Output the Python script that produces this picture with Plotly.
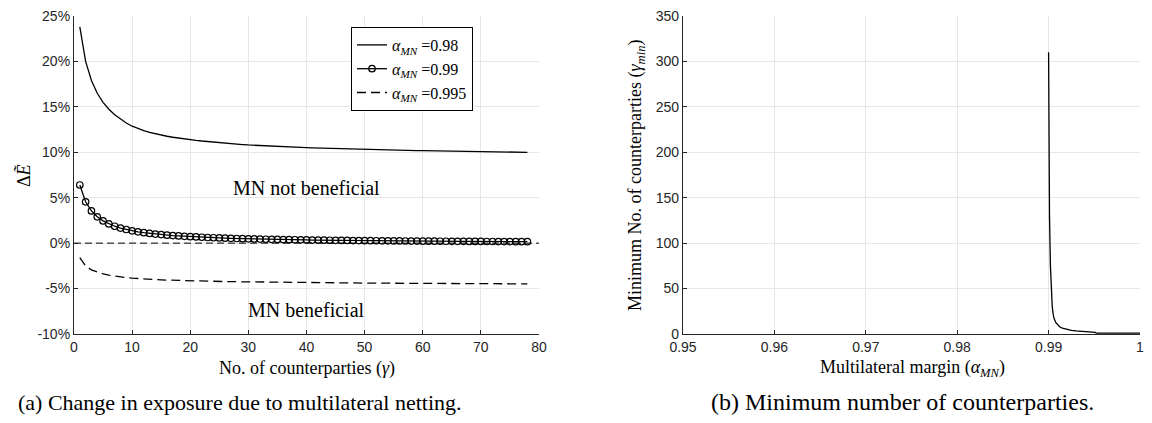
import plotly.graph_objects as go

# ---------------- data ----------------
gamma = list(range(1, 79))

alpha_098 = [23.8, 20.0, 17.9, 16.5, 15.5, 14.74, 14.14, 13.64, 13.22, 12.87,
             12.61, 12.39, 12.20, 12.035, 11.89, 11.765, 11.655, 11.555, 11.465, 11.385,
             11.31, 11.24, 11.175, 11.115, 11.057, 11.002, 10.949, 10.899, 10.851, 10.805,
             10.769, 10.735, 10.703, 10.672, 10.643, 10.615, 10.588, 10.563, 10.539, 10.516,
             10.494, 10.473, 10.452, 10.432, 10.413, 10.394, 10.376, 10.358, 10.341, 10.324,
             10.308, 10.292, 10.277, 10.262, 10.247, 10.233, 10.219, 10.205, 10.192, 10.179,
             10.167, 10.155, 10.143, 10.131, 10.120, 10.109, 10.098, 10.088, 10.078, 10.068,
             10.058, 10.049, 10.040, 10.031, 10.022, 10.014, 10.006, 9.998]

alpha_099 = [6.4, 4.55, 3.55, 2.9, 2.45, 2.12, 1.86, 1.66, 1.5, 1.36,
             1.25, 1.15, 1.07, 1.0, 0.94, 0.88, 0.83, 0.79, 0.75, 0.71,
             0.68, 0.65, 0.62, 0.595, 0.57, 0.55, 0.53, 0.51, 0.49, 0.475,
             0.46, 0.445, 0.43, 0.418, 0.405, 0.394, 0.383, 0.372, 0.362, 0.352,
             0.343, 0.334, 0.326, 0.318, 0.31, 0.302, 0.295, 0.288, 0.281, 0.275,
             0.269, 0.263, 0.257, 0.251, 0.246, 0.241, 0.236, 0.231, 0.226, 0.222,
             0.218, 0.214, 0.21, 0.206, 0.202, 0.198, 0.195, 0.191, 0.188, 0.185,
             0.182, 0.179, 0.176, 0.173, 0.17, 0.167, 0.165, 0.162]

alpha_0995 = [-1.6, -2.5, -2.95, -3.2, -3.38, -3.52, -3.63, -3.72, -3.79, -3.85,
              -3.9, -3.94, -3.98, -4.01, -4.04, -4.065, -4.09, -4.11, -4.13, -4.15,
              -4.165, -4.18, -4.193, -4.206, -4.218, -4.229, -4.24, -4.25, -4.26, -4.269,
              -4.278, -4.286, -4.294, -4.302, -4.309, -4.316, -4.323, -4.33, -4.336, -4.342,
              -4.348, -4.354, -4.36, -4.365, -4.37, -4.375, -4.38, -4.385, -4.39, -4.395,
              -4.399, -4.403, -4.407, -4.411, -4.415, -4.419, -4.423, -4.427, -4.43, -4.434,
              -4.437, -4.44, -4.443, -4.446, -4.449, -4.452, -4.455, -4.458, -4.461, -4.464,
              -4.467, -4.47, -4.472, -4.474, -4.476, -4.478, -4.48, -4.482]

zero_ref_x = [0, 80]
zero_ref_y = [0, 0]

alpha_mn = [0.99, 0.99005, 0.9901, 0.9902, 0.9903, 0.9904, 0.9905, 0.9906, 0.9908,
            0.991, 0.9912, 0.9915, 0.992, 0.9925, 0.993, 0.9935, 0.994, 0.9945,
            0.995, 0.9951, 0.9952, 0.996, 0.997, 0.998, 0.999, 1.0]
gamma_min = [310, 200, 130, 75, 45, 30, 22, 17, 12.5,
             10, 8, 6.5, 5, 4, 3.4, 3, 2.5, 2.2,
             2, 1.9, 1, 1, 1, 1, 1, 1]

left_yticks = [-10, -5, 0, 5, 10, 15, 20, 25]
left_yticktext = ["-10%", "-5%", "0%", "5%", "10%", "15%", "20%", "25%"]
left_xticks = [0, 10, 20, 30, 40, 50, 60, 70, 80]
right_xticks = [0.95, 0.96, 0.97, 0.98, 0.99, 1.0]
right_xticktext = ["0.95", "0.96", "0.97", "0.98", "0.99", "1"]
right_yticks = [0, 50, 100, 150, 200, 250, 300, 350]

legend_names = ["<i>α</i><sub><i>MN</i></sub> =0.98",
                "<i>α</i><sub><i>MN</i></sub> =0.99",
                "<i>α</i><sub><i>MN</i></sub> =0.995"]

# ---------------- figure ----------------
OFF = 8                      # default page margin of the browser body
W, H = 1152 - 2 * OFF, 423 - 2 * OFF
SERIF = "Liberation Serif, DejaVu Serif, serif"
SANS = "Liberation Sans, Arial, sans-serif"
AX = "#262626"
GRID = "#e6e6e6"


def px(x):
    return (x - OFF) / W


def py(y):
    return 1 - (y - OFF) / H


fig = go.Figure()

fig.add_trace(go.Scatter(x=zero_ref_x, y=zero_ref_y, mode="lines", xaxis="x", yaxis="y",
                         line=dict(color="black", width=1, dash="7px,4px"),
                         showlegend=False, hoverinfo="skip"))
fig.add_trace(go.Scatter(x=gamma, y=alpha_098, mode="lines", name=legend_names[0],
                         xaxis="x", yaxis="y", line=dict(color="black", width=1.3)))
fig.add_trace(go.Scatter(x=gamma, y=alpha_099, mode="lines+markers", name=legend_names[1],
                         xaxis="x", yaxis="y", line=dict(color="black", width=1.3),
                         marker=dict(symbol="circle-open", size=6.5, color="black",
                                     line=dict(width=1.2))))
fig.add_trace(go.Scatter(x=gamma, y=alpha_0995, mode="lines", name=legend_names[2],
                         xaxis="x", yaxis="y",
                         line=dict(color="black", width=1.3, dash="9px,5px")))

fig.add_trace(go.Scatter(x=alpha_mn, y=gamma_min, mode="lines", xaxis="x2", yaxis="y2",
                         line=dict(color="black", width=1.3), showlegend=False))

axis_common = dict(showgrid=True, gridcolor=GRID, gridwidth=1, zeroline=False,
                   showline=True, linecolor=AX, linewidth=1.2, ticks="inside",
                   ticklen=4, tickcolor=AX, tickwidth=1, automargin=False,
                   ticklabeloverflow="allow",
                   tickfont=dict(family=SANS, size=14, color=AX), mirror=False)

yd = [py(334), py(16)]
fig.update_layout(
    width=W, height=H,
    margin=dict(l=0, r=0, t=0, b=0),
    paper_bgcolor="white", plot_bgcolor="white",
    xaxis=dict(domain=[px(74), px(539)], range=[0, 80.0001], tickvals=left_xticks,
               anchor="y", **axis_common),
    yaxis=dict(domain=yd, range=[-10, 25.0001], tickvals=left_yticks,
               ticktext=left_yticktext, anchor="x", **axis_common),
    xaxis2=dict(domain=[px(683), px(1140)], range=[0.95, 1.000001], tickvals=right_xticks,
                ticktext=right_xticktext, anchor="y2", **axis_common),
    yaxis2=dict(domain=yd, range=[0, 350.001], tickvals=right_yticks, anchor="x2",
                **axis_common),
    legend=dict(x=px(351), y=py(27), xanchor="left", yanchor="top",
                bgcolor="white", bordercolor="black", borderwidth=1,
                font=dict(family=SERIF, size=16, color="black"),
                tracegroupgap=0, itemwidth=30),
    showlegend=True,
)


def ann(text, x, y, size, xref="paper", yref="paper", angle=0):
    fig.add_annotation(text=text, x=x, y=y, xref=xref, yref=yref, showarrow=False,
                       textangle=angle, xanchor="center", yanchor="middle",
                       font=dict(family=SERIF, size=size, color="black"))


ann("MN not beneficial", 40, 6.1, 20, xref="x", yref="y")
ann("MN beneficial", 40, -7.4, 20, xref="x", yref="y")
ann("No. of counterparties (<i>γ</i>)", px(307), py(368), 18)
ann("Δ<i>Ẽ</i>", px(24), py(176), 18, angle=-90)
ann("Multilateral margin (<i>α</i><sub><i>MN</i></sub>)", px(912), py(368), 18)
ann("Minimum No. of counterparties (<i>γ</i><sub><i>min</i></sub>)", px(636), py(176), 18,
    angle=-90)
ann("(a) Change in exposure due to multilateral netting.", px(240), py(402), 22)
ann("(b) Minimum number of counterparties.", px(902), py(402), 24)

fig.write_html("out.html")
